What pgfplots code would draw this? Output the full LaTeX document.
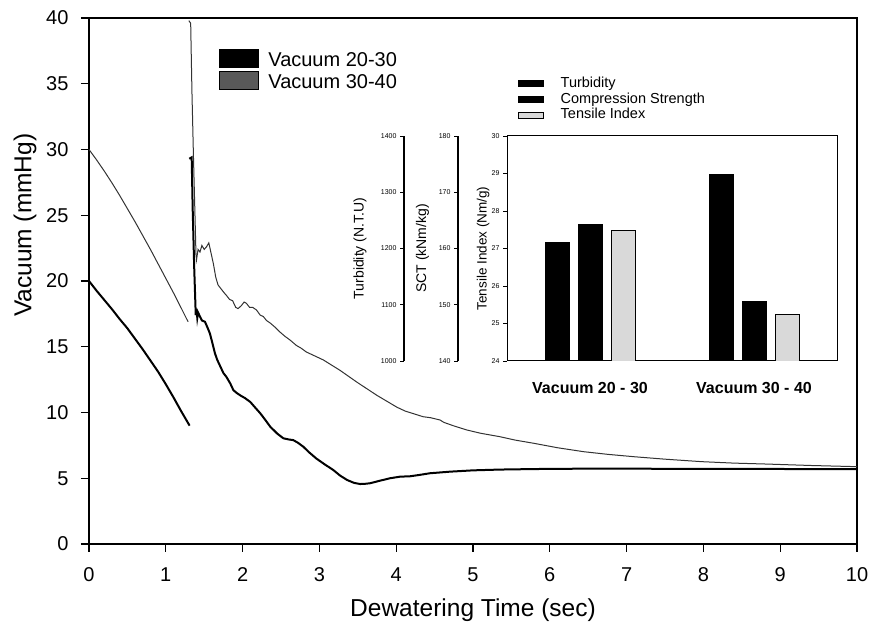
\documentclass[border=0pt]{standalone}
\usepackage{fontspec}
\setmainfont{Liberation Sans}
\usepackage{pgfplots}
\pgfplotsset{compat=1.18}
\begin{document}
\begin{tikzpicture}
\useasboundingbox (-89pt,-84pt) rectangle (784pt,544pt);
% ---------------- main axis ----------------
\begin{axis}[
  at={(0pt,0pt)}, anchor=south west,
  scale only axis, width=768pt, height=526pt,
  xmin=0, xmax=10, ymin=0, ymax=40,
  xtick={0,1,...,10}, ytick={0,5,...,40},
  tick align=outside, major tick length=8pt,
  xtick pos=bottom, ytick pos=left,
  axis line style={line width=1.4pt},
  tick style={line width=1.2pt, black},
  /pgf/number format/assume math mode=true,
  ticklabel style={font=\fontsize{20}{24}\selectfont},
  xticklabel style={yshift=-12pt},
  yticklabel style={xshift=-9pt},
  xlabel={Dewatering Time (sec)}, ylabel={Vacuum (mmHg)},
  label style={font=\fontsize{24.5}{28}\selectfont},
  xlabel style={at={(axis description cs:0.5,-0.125)}, anchor=center},
  ylabel style={at={(axis description cs:-0.0833,0.606)}, anchor=center},
  legend image code/.code={\fill[#1] (0pt,-9pt) rectangle (39pt,9pt);},
  legend style={at={(axis description cs:0.169,0.944)}, anchor=north west,
    draw=none, fill=none, inner sep=0pt, row sep=0pt, column sep=6.5pt,
    font=\fontsize{20}{24}\selectfont,
    nodes={text height=15pt, text depth=0pt, inner sep=3.5pt}},
  legend cell align=left,
]
% Vacuum 20-30
\addplot[black, line width=2pt, forget plot] coordinates {
(0,20) (0.1,19.25) (0.2,18.55) (0.3,17.85) (0.4,17.1) (0.5,16.4) (0.6,15.6)
(0.7,14.8) (0.8,13.95) (0.9,13.1) (1.0,12.15) (1.1,11.15) (1.2,10.1) (1.31,9.0)};
\addplot[black, line width=2pt, forget plot] coordinates {
(1.305,29.3) (1.337,29.4) (1.35,25.5) (1.37,21.0) (1.39,17.4) (1.40,17.9) (1.41,17.2)
(1.42,17.6) (1.445,17.3) (1.47,17.0) (1.51,16.9) (1.54,16.5) (1.575,16.0) (1.61,15.2)
(1.64,14.5) (1.67,14.0) (1.71,13.5) (1.75,13.0) (1.79,12.7) (1.84,12.2) (1.88,11.7)
(1.92,11.5) (1.97,11.3) (2.03,11.1) (2.10,10.8) (2.16,10.4) (2.23,9.94) (2.30,9.4)
(2.36,8.92) (2.45,8.4) (2.53,8.04) (2.60,7.95) (2.66,7.9) (2.72,7.7) (2.79,7.4)
(2.87,6.95) (2.96,6.5) (3.07,6.05) (3.18,5.63) (3.27,5.2) (3.36,4.87) (3.45,4.65)
(3.53,4.56) (3.60,4.58) (3.66,4.62) (3.78,4.8) (3.92,5.0) (4.05,5.12) (4.18,5.15)
(4.30,5.25) (4.44,5.38) (4.70,5.5) (5.0,5.6) (5.35,5.66) (5.8,5.7) (6.2,5.72)
(6.65,5.73) (7.5,5.72) (8.5,5.71) (9.3,5.7) (10,5.7)};
% Vacuum 30-40
\addplot[black!80, line width=1pt, forget plot] coordinates {
(0,30) (0.1,29.2) (0.2,28.35) (0.3,27.45) (0.4,26.5) (0.5,25.5) (0.6,24.5)
(0.7,23.45) (0.8,22.4) (0.9,21.3) (1.0,20.2) (1.1,19.1) (1.2,17.95) (1.29,16.9)};
\addplot[black!80, line width=1pt, forget plot] coordinates {
(1.30,39.8) (1.324,39.6) (1.34,34.5) (1.36,29.5) (1.38,25.0) (1.393,22.0) (1.40,21.6)
(1.42,22.4) (1.445,22.2) (1.47,22.7) (1.50,22.4) (1.53,22.6) (1.56,22.9) (1.59,22.1)
(1.62,21.3) (1.65,20.3) (1.68,19.7) (1.72,19.4) (1.76,19.1) (1.79,18.9) (1.83,18.6)
(1.87,18.5) (1.91,18.0) (1.94,17.9) (1.98,18.1) (2.02,18.4) (2.05,18.3) (2.09,18.0)
(2.13,18.0) (2.18,17.8) (2.23,17.4) (2.27,17.3) (2.31,17.0) (2.36,16.8) (2.42,16.5)
(2.49,16.1) (2.55,15.8) (2.62,15.5) (2.70,15.1) (2.76,14.9) (2.83,14.6) (2.94,14.3)
(3.05,14.0) (3.16,13.6) (3.27,13.2) (3.38,12.75) (3.49,12.3) (3.62,11.8) (3.75,11.3)
(3.88,10.85) (4.01,10.4) (4.12,10.1) (4.22,9.92) (4.35,9.68) (4.45,9.6) (4.57,9.43)
(4.62,9.25) (4.75,8.98) (4.92,8.67) (5.1,8.42) (5.35,8.16) (5.55,7.9) (5.79,7.66)
(6.1,7.32) (6.44,7.02) (6.75,6.82) (7.09,6.64) (7.5,6.45) (7.98,6.26) (8.4,6.15)
(8.82,6.08) (9.4,5.97) (10,5.88)};
\addlegendimage{fill=black}
\addlegendentry{Vacuum 20-30}
\addlegendimage{fill=black!65}
\addlegendentry{Vacuum 30-40}
\end{axis}
% ---------------- inset: Turbidity scale ----------------
\begin{axis}[
  at={(315pt,183pt)}, anchor=south west,
  scale only axis, width=10pt, height=225pt,
  xmin=0, xmax=1, ymin=1000, ymax=1400,
  ytick={1000,1100,1200,1300,1400}, yticklabels={1000,1100,1200,1300,1400},
  hide x axis, axis y line*=left, y axis line style={-, line width=1.3pt},
  ytick pos=left, tick align=outside, major tick length=4pt,
  tick style={line width=0.8pt, black},
  yticklabel style={font=\fontsize{7}{8}\selectfont},
  ylabel={Turbidity (N.T.U)},
  ylabel style={at={(axis description cs:-4.4,0.5)}, anchor=center, font=\fontsize{14}{16}\selectfont},
]
\end{axis}
% ---------------- inset: SCT scale ----------------
\begin{axis}[
  at={(369pt,183pt)}, anchor=south west,
  scale only axis, width=10pt, height=225pt,
  xmin=0, xmax=1, ymin=140, ymax=180,
  ytick={140,150,160,170,180}, yticklabels={140,150,160,170,180},
  hide x axis, axis y line*=left, y axis line style={-, line width=1.3pt},
  ytick pos=left, tick align=outside, major tick length=4pt,
  tick style={line width=0.8pt, black},
  yticklabel style={font=\fontsize{7}{8}\selectfont},
  ylabel={SCT (kNm/kg)},
  ylabel style={at={(axis description cs:-3.56,0.5)}, anchor=center, font=\fontsize{14}{16}\selectfont},
]
\end{axis}
% ---------------- inset: Tensile box ----------------
\begin{axis}[
  at={(418pt,183pt)}, anchor=south west,
  scale only axis, width=330pt, height=225pt,
  xmin=0, xmax=330, ymin=24, ymax=30,
  ytick={24,25,...,30}, yticklabels={24,25,26,27,28,29,30},
  xtick={83,247}, xticklabels={Vacuum 20 - 30, Vacuum 30 - 40},
  xtick style={draw=none}, ytick pos=left, xtick pos=bottom,
  tick align=outside, major tick length=4pt,
  tick style={line width=0.8pt, black},
  axis line style={line width=1pt},
  yticklabel style={font=\fontsize{7}{8}\selectfont},
  xticklabel style={font=\bfseries\fontsize{16}{18}\selectfont, anchor=center, yshift=-23pt},
  ylabel={Tensile Index (Nm/g)},
  ylabel style={at={(axis description cs:-0.0727,0.5)}, anchor=center, font=\fontsize{13.5}{16}\selectfont},
  legend image code/.code={\draw[#1] (0pt,-3pt) rectangle (25pt,3pt);},
  legend style={at={(axis description cs:0.0333,1.27)}, anchor=north west,
    draw=none, fill=none, inner sep=0pt, row sep=0pt, column sep=15.5pt,
    font=\fontsize{14.5}{16}\selectfont,
    nodes={text height=10.5pt, text depth=3pt, inner sep=1.2pt}},
  legend cell align=left,
]
\addlegendimage{fill=black, draw=black}
\addlegendentry{Turbidity}
\addlegendimage{fill=black, draw=black}
\addlegendentry{Compression Strength}
\addlegendimage{fill=black!15, draw=black, line width=0.8pt}
\addlegendentry{Tensile Index}
\addplot[ybar, bar width=24pt, bar shift=33pt, fill=black!15, draw=black, line width=0.8pt, forget plot]
  coordinates {(83,27.49) (247,25.25)};
\end{axis}
% ---------------- inset: Turbidity bars ----------------
\begin{axis}[
  at={(418pt,183pt)}, anchor=south west,
  scale only axis, width=330pt, height=225pt,
  xmin=0, xmax=330, ymin=1000, ymax=1400, hide axis,
]
\addplot[ybar, bar width=24pt, bar shift=-33pt, fill=black, draw=black]
  coordinates {(83,1211) (247,1332)};
\end{axis}
% ---------------- inset: SCT bars ----------------
\begin{axis}[
  at={(418pt,183pt)}, anchor=south west,
  scale only axis, width=330pt, height=225pt,
  xmin=0, xmax=330, ymin=140, ymax=180, hide axis,
]
\addplot[ybar, bar width=24pt, bar shift=0pt, fill=black, draw=black]
  coordinates {(83,164.3) (247,150.6)};
\end{axis}
\end{tikzpicture}
\end{document}
